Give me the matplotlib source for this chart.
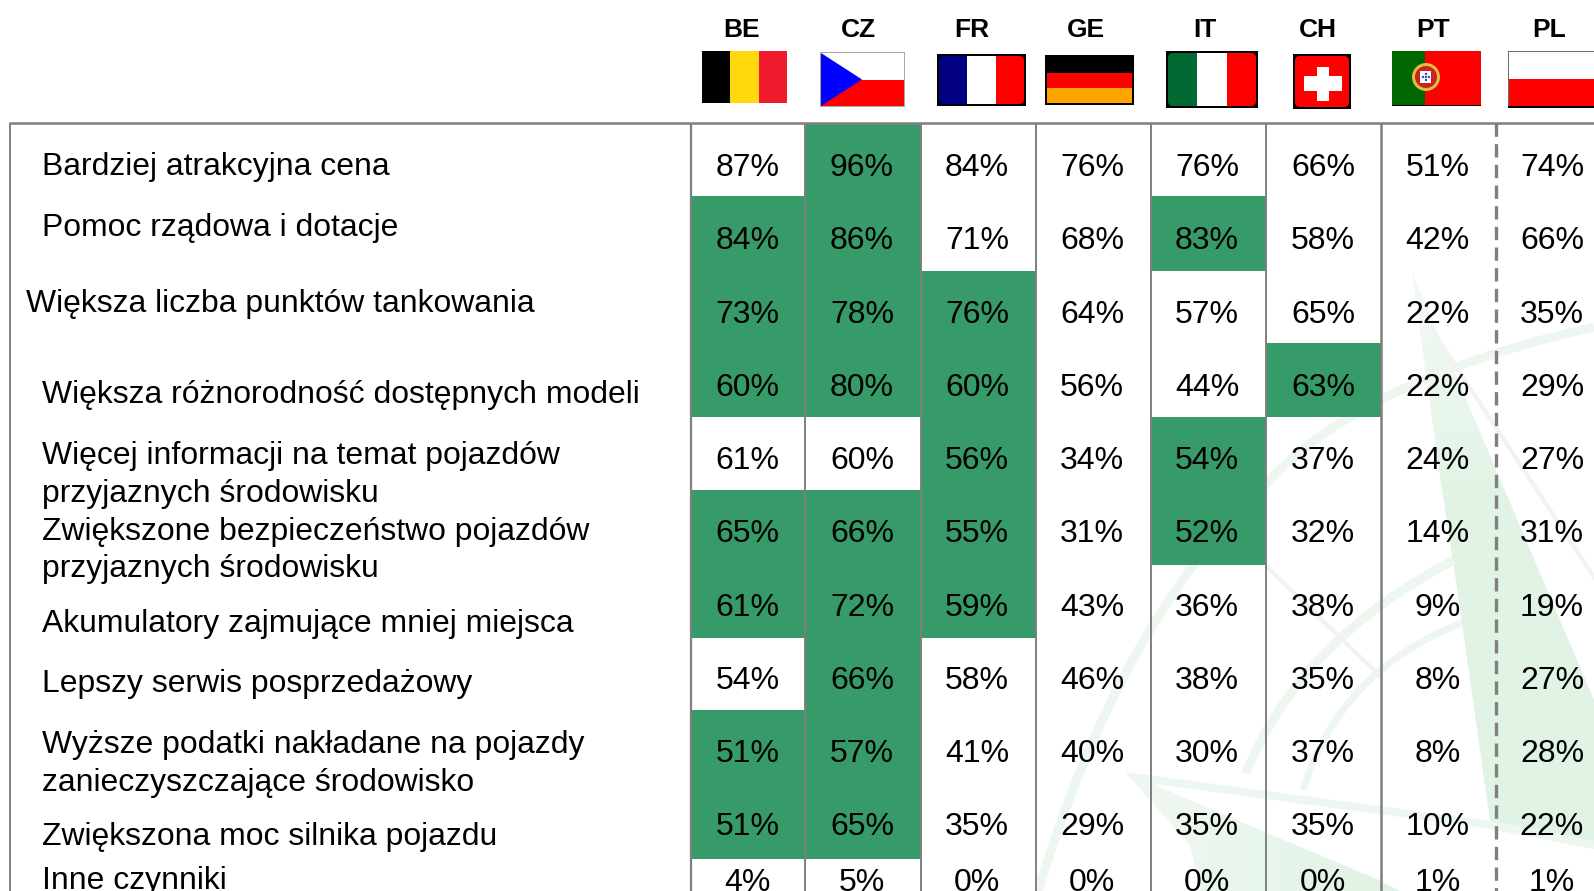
import matplotlib
matplotlib.use("Agg")
import matplotlib.pyplot as plt
import numpy as np
from matplotlib.colors import to_rgb
from matplotlib.patches import Rectangle, Polygon, Circle, FancyBboxPatch, PathPatch
from matplotlib.path import Path

W, H = 1594, 891
plt.rcParams['font.family'] = ['Liberation Sans', 'DejaVu Sans']

countries = ["BE", "CZ", "FR", "GE", "IT", "CH", "PT", "PL"]
labels = [
    "Bardziej atrakcyjna cena",
    "Pomoc rządowa i dotacje",
    "Większa liczba punktów tankowania",
    "Większa różnorodność dostępnych modeli",
    "Więcej informacji na temat pojazdów\nprzyjaznych środowisku",
    "Zwiększone bezpieczeństwo pojazdów\nprzyjaznych środowisku",
    "Akumulatory zajmujące mniej miejsca",
    "Lepszy serwis posprzedażowy",
    "Wyższe podatki nakładane na pojazdy\nzanieczyszczające środowisko",
    "Zwiększona moc silnika pojazdu",
    "Inne czynniki",
]
BE = [87, 84, 73, 60, 61, 65, 61, 54, 51, 51, 4]
CZ = [96, 86, 78, 80, 60, 66, 72, 66, 57, 65, 5]
FR = [84, 71, 76, 60, 56, 55, 59, 58, 41, 35, 0]
GE = [76, 68, 64, 56, 34, 31, 43, 46, 40, 29, 0]
IT = [76, 83, 57, 44, 54, 52, 36, 38, 30, 35, 0]
CH = [66, 58, 65, 63, 37, 32, 38, 35, 37, 35, 0]
PT = [51, 42, 22, 22, 24, 14, 9, 8, 8, 10, 1]
PL = [74, 66, 35, 29, 27, 31, 19, 27, 28, 22, 1]
values = [BE, CZ, FR, GE, IT, CH, PT, PL]
# row indices that are highlighted, per country
highlight = {
    "BE": [1, 2, 3, 5, 6, 8, 9],
    "CZ": [0, 1, 2, 3, 5, 6, 7, 8, 9],
    "FR": [2, 3, 4, 5, 6],
    "GE": [],
    "IT": [1, 4, 5],
    "CH": [3],
    "PT": [],
    "PL": [],
}

GREEN = "#379a69"
LINE = "#7f7f7f"
LEAF = "#e0f3e4"
BAND = "#edf6ef"
THIN = "#f0f3f0"

fig = plt.figure(figsize=(W / 100, H / 100), dpi=100)
ax = fig.add_axes([0, 0, 1, 1])
ax.axis("off")

# layout
col_edges = [691, 805, 921, 1036, 1151, 1266, 1381.5, 1496.5, 1612]
row_edges = [123, 196, 270.5, 343, 416.5, 490, 564.5, 638, 710, 785, 859, 900]
text_x = [747.5, 862, 977, 1092, 1207, 1323, 1437.5, 1552]
text_base = [164.2 + 73.25 * i + 12 for i in range(10)] + [891]
head_x = [742, 858, 972, 1086, 1205, 1318, 1433, 1549]
label_x = [41.7, 41.7, 26.4, 41.7, 41.7, 41.7, 41.7, 41.7, 41.7, 41.7, 41.7]
label_base = [175, 236, 312, 402.5, 463.6, 540, 632, 692, 753, 845, 888.5]
line_gap = [0, 0, 0, 0, 38.5, 37.5, 0, 0, 37.5, 0, 0]
VAL_FS = 23
LAB_FS = 22.95

# watermark
def band(pts, c, lw):
    codes = [Path.MOVETO] + [Path.CURVE3] * (len(pts) - 1)
    ax.add_patch(PathPatch(Path(pts, codes), fc="none", ec=c, lw=lw, zorder=1, capstyle="butt"))

def gradient_poly(pts, c0, c1, box, fade=1.0, horizontal=False):
    # polygon filled with a soft fade between two tints
    x0, x1, y0, y1 = box
    c0, c1 = np.array(to_rgb(c0)), np.array(to_rgb(c1))
    t = np.clip(np.linspace(0, 1, 256) / fade, 0, 1)
    t = t[None, :] if horizontal else t[:, None]
    img = c0[None, None, :] * (1 - t[..., None]) + c1[None, None, :] * t[..., None]
    im = ax.imshow(img, extent=(x0, x1, y1, y0), aspect="auto", zorder=1, interpolation="bilinear")
    clip = Polygon(pts, closed=True, transform=ax.transData, fc="none", ec="none")
    ax.add_patch(clip)
    im.set_clip_path(clip)

gradient_poly([(1412, 272), (1594, 700), (1594, 841), (1490, 821), (1454, 567), (1440, 477)],
              "#f4faf5", LEAF, (1400, 1594, 272, 891), fade=0.4)
gradient_poly([(1125, 772), (1253, 827), (1379, 880), (1400, 891), (1200, 891), (1190, 845)],
              "#f0f8f2", LEAF, (1125, 1400, 772, 891), horizontal=True)
ax.add_patch(Polygon([(1125, 772), (1490, 821), (1594, 841), (1594, 849), (1490, 829), (1140, 782)],
                     closed=True, fc=BAND, ec="none", zorder=1))
band([(1594, 327), (1360, 380), (1267, 483), (1120, 620), (1038, 891)], BAND, 6.5)
band([(1454, 560), (1300, 640), (1246, 773)], BAND, 6.5)
band([(1462, 623), (1340, 670), (1303, 790)], BAND, 5)
ax.plot([1430, 1594], [327, 577], color=THIN, lw=3, zorder=1)
ax.plot([1267, 1381], [567, 677], color=THIN, lw=3, zorder=1)

# highlighted cells
for i, c in enumerate(countries):
    for r in highlight[c]:
        ax.bar(col_edges[i], row_edges[r + 1] - row_edges[r], width=col_edges[i + 1] - col_edges[i],
               bottom=row_edges[r], align="edge", color=GREEN, lw=0, zorder=2)

# frame
for x, lw in zip(col_edges[:7], [1.6, 1.4, 1.4, 1.4, 1.4, 1.4, 1.8]):
    ax.plot([x, x], [123, H], color=LINE, lw=lw, zorder=3, solid_capstyle="butt")
ax.plot([1496.5, 1496.5], [123, H], color=LINE, lw=2.4, zorder=3, dashes=(4, 2.2))
ax.plot([10, 10], [123, H], color=LINE, lw=1.4, zorder=3, solid_capstyle="butt")
ax.plot([9.5, W], [122.5, 122.5], color=LINE, lw=1.8, zorder=3, solid_capstyle="butt")

# values
for i, col in enumerate(values):
    for r, v in enumerate(col):
        ax.text(text_x[i], text_base[r], f"{v}%", ha="center", va="baseline", fontsize=VAL_FS, color="black", zorder=4)

# labels
for r, lab in enumerate(labels):
    for k, part in enumerate(lab.split("\n")):
        ax.text(label_x[r], label_base[r] + k * line_gap[r], part, ha="left", va="baseline",
                fontsize=LAB_FS, color="black", zorder=4)

# headers
for c, x in zip(countries, head_x):
    ax.text(x, 37, c, ha="center", va="baseline", fontsize=19, fontweight="bold", color="black")

# flags
def rect(x0, y0, x1, y1, c, z=5):
    p = Rectangle((x0, y0), x1 - x0, y1 - y0, fc=c, ec="none", zorder=z)
    ax.add_patch(p)
    return p

def rounded(x0, y0, x1, y1):
    return FancyBboxPatch((x0 + 4, y0 + 4), x1 - x0 - 8, y1 - y0 - 8,
                          boxstyle="round,pad=4,rounding_size=5", fc="none", ec="none",
                          transform=ax.transData, zorder=5)

def vflag(x0, y0, x1, y1, cols, border=None, pad=2):
    clip = None
    if border:
        rect(x0, y0, x1, y1, border)
        x0 += pad; y0 += pad; x1 -= pad; y1 -= pad
        clip = rounded(x0, y0, x1, y1)
        ax.add_patch(clip)
    w = (x1 - x0) / 3
    for k, c in enumerate(cols):
        p = rect(x0 + k * w, y0, x0 + (k + 1) * w, y1, c, 6)
        if clip is not None:
            p.set_clip_path(clip)

vflag(702, 51, 787, 103, ["#000000", "#ffd90c", "#ef1a2d"])
# CZ
rect(820, 52, 905, 107, "#a8a8a8")
rect(821, 53, 904, 106, "#ffffff", 6)
rect(821, 79.5, 904, 106, "#ff0000", 6)
ax.add_patch(Polygon([(821, 53), (862, 79.5), (821, 106)], fc="#0000ff", ec="none", zorder=7))
vflag(937, 54, 1026, 106, ["#000080", "#ffffff", "#ff0000"], "#000000")
# GE
rect(1045, 55, 1134, 105, "#000000")
rect(1047, 72.5, 1132, 88, "#ff0000", 6)
rect(1047, 88, 1132, 103, "#ffa500", 6)
vflag(1166, 51, 1258, 108, ["#006a32", "#ffffff", "#ff0000"], "#000000")
# CH
rect(1293, 54, 1351, 109, "#000000")
ch_clip = rounded(1295, 56, 1349, 107)
ax.add_patch(ch_clip)
rect(1295, 56, 1349, 107, "#ff0000", 6).set_clip_path(ch_clip)
rect(1317, 67, 1329, 101, "#ffffff", 7)
rect(1304, 76, 1342, 91, "#ffffff", 7)
# PT
rect(1392, 51, 1481, 106, "#000000")
rect(1392, 51, 1425, 104.5, "#006600", 6)
rect(1425, 51, 1481, 104.5, "#ff0000", 6)
ax.add_patch(Circle((1426, 77), 14, fc="#d8c040", ec="none", zorder=7))
ax.add_patch(Circle((1426, 77), 11, fc="#d02020", ec="none", zorder=8))
rect(1420.5, 71, 1431.5, 83, "#ffffff", 9)
for dx, dy in [(0, -3), (-3, 0), (0, 0), (3, 0), (0, 3)]:
    ax.add_patch(Circle((1426 + dx, 77 + dy), 1.2, fc="#3050a0", ec="none", zorder=10))
# PL
rect(1508, 51, 1600, 108, "#6e6e6e")
rect(1509, 52, 1600, 78.5, "#ffffff", 6)
rect(1509, 78.5, 1600, 105.5, "#ff0000", 6)
rect(1508, 105.5, 1600, 108, "#000000", 7)

ax.set_xlim(0, W)
ax.set_ylim(H, 0)

fig.savefig("out.png", dpi=100, facecolor="white")
